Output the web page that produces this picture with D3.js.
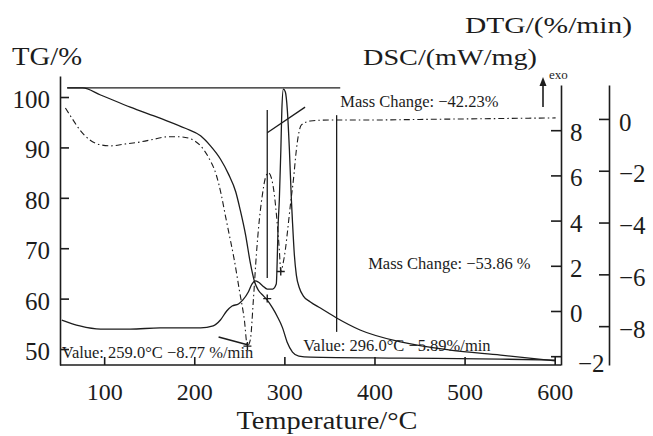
<!DOCTYPE html>
<html>
<head>
<meta charset="utf-8">
<script src="https://cdn.jsdelivr.net/npm/d3@7"></script>
<style>
  body { margin: 0; background: #fff; }
  svg { display: block; }
  text { font-family: "Liberation Serif", "DejaVu Serif", serif; fill: #1c1c1c; }
</style>
</head>
<body>
<div id="chart"></div>
<script>

    /////////////////////////////////////////////////////////////////////////////
                          ///////    Data    ///////
    /////////////////////////////////////////////////////////////////////////////

    // TG curve, [temperature °C, mass %]
    var tgData = [[59,101.8],[76,101.8],[96,100.4],[129,98.0],[162,95.8],[190,93.8],[207,92.3],
                  [218,90.3],[229,87.7],[238,84.7],[246,81.2],[251,77.6],[257,72.6],[262,67.3],
                  [267,63.3],[271,61.7],[277,60.5],[281,59.7],[287,58.1],[292,56.5],[298,54.2],
                  [303,51.4],[309,49.4],[316,48.6],[329,48.4],[429,48.2],[540,48.0],[601,47.8]];

    // DSC curve, [temperature °C, mW/mg]
    var dscData = [[53,-0.4],[73,-0.66],[96,-0.8],[129,-0.8],[162,-0.75],[207,-0.75],[221,-0.66],
                   [229,-0.4],[236,0.0],[242,0.22],[249,0.31],[254,0.49],[260,0.84],[264,1.19],
                   [268,1.33],[271,1.28],[276,1.11],[281,0.97],[287,0.97],[291,1.19],[293.3,4.03],
                   [294.4,4.91],[296.1,7.12],[297.2,8.89],[298.9,9.82],[301.1,9.69],[303.3,8.89],
                   [305.6,7.12],[307.8,4.91],[308.9,4.03],[311.1,2.48],[313.3,1.59],[316.7,1.02],
                   [321.1,0.66],[328.9,0.4],[340,0.13],[358,-0.31],[384,-0.84],[429,-1.37],
                   [484,-1.73],[540,-1.95],[601,-2.21]];

    // DTG curve, [temperature °C, %/min]
    var dtgData = [[57,0.42],[64,0.04],[73,-0.42],[84,-0.81],[96,-1.0],[107,-1.04],[123,-0.97],
                   [140,-0.89],[157,-0.77],[170,-0.69],[184,-0.69],[196,-0.77],[207,-1.04],
                   [215.6,-1.47],[224.4,-2.16],[230,-2.93],[234.4,-3.71],[238.9,-4.48],[244.4,-5.44],
                   [250,-6.6],[255.6,-7.76],[259,-8.77],[262.2,-8.53],[265.6,-6.99],[268.9,-5.25],
                   [272.2,-3.9],[275.6,-2.93],[278.9,-2.28],[282.2,-2.08],[285.6,-2.28],[288.9,-2.93],
                   [292.2,-4.09],[294.4,-5.05],[296,-5.89],[298.9,-5.52],[301.1,-5.05],[303.3,-4.4],
                   [306.7,-3.32],[310,-2.36],[313.3,-1.2],[315.6,-0.62],[318.9,-0.23],[328.9,-0.08],
                   [350,-0.04],[400,-0.04],[450,-0.02],[500,0.0],[550,0.02],[601,0.04]];

    var xTicks   = [100, 200, 300, 400, 500, 600];
    var tgTicks  = [50, 60, 70, 80, 90, 100];
    var dscTicks = [-2, 0, 2, 4, 6, 8];
    var dtgTicks = [-8, -6, -4, -2, 0];

    // evaluation marks: [temperature, value]
    var tgMarkers  = [[281, 60.0]];
    var dtgMarkers = [[259, -8.77], [296, -5.89]];

    // step construction lines on the TG scale: [[T1, v1], [T2, v2]]
    var tgGuides = [[[59, 101.8], [362, 101.8]],
                    [[281, 92.9], [323, 98.0]],
                    [[281, 97.4], [281, 64.1]],
                    [[358, 96.4], [358, 53.4]]];

    // leader for the first DTG value, DTG scale
    var dtgLeader = [[227, -8.42], [259, -8.72]];

    var notes = [
        {text: "Mass Change: \u221242.23%",   t: 362, v: 98.0},
        {text: "Mass Change: \u221253.86 %",  t: 393, v: 65.9},
        {text: "Value: 259.0\u00b0C \u22128.77 %/min", t: 53, v: 48.2},
        {text: "Value: 296.0\u00b0C \u22125.89%/min",  t: 321, v: 49.6}
    ];

    /////////////////////////////////////////////////////////////////////////////
                          ///////    Layout    ///////
    /////////////////////////////////////////////////////////////////////////////

    var w = 653, h = 436;
    var ink = "#1c1c1c";
    var stroke = 1.3;

    var left = 60, right = 561, bottom = 365;
    var dtgAxisX = 609;

    var x   = d3.scaleLinear().domain([51, 607]).range([left, right]);
    var yTG = d3.scaleLinear().domain([46.83, 104.17]).range([bottom, 76]);
    var yDSC = d3.scaleLinear().domain([-2.39, 10.0]).range([bottom, 85]);
    var yDTG = d3.scaleLinear().domain([-9.5, 1.31]).range([bottom, 85]);

    var svg = d3.select("#chart").append("svg")
        .attr("width", w).attr("height", h)
        .attr("xmlns", "http://www.w3.org/2000/svg");

    var g = svg.append("g");

    /////////////////////////////////////////////////////////////////////////////
                          ///////    Axes    ///////
    /////////////////////////////////////////////////////////////////////////////

    function styleAxis(sel, fontSize) {
        sel.select(".domain").attr("stroke", ink).attr("stroke-width", 1.6);
        sel.selectAll(".tick line").attr("stroke", ink).attr("stroke-width", 1.6);
        sel.selectAll(".tick text")
           .attr("fill", ink)
           .style("font-size", fontSize + "px")
           .style("font-family", "'Liberation Serif', serif");
    }

    var fmt = d => d < 0 ? "\u2212" + Math.abs(d) : "" + d;

    var xAxis = g.append("g").attr("transform", "translate(0," + bottom + ")")
        .call(d3.axisBottom(x).tickValues(xTicks).tickSize(-8).tickSizeOuter(0).tickPadding(18).tickFormat(fmt));
    styleAxis(xAxis, 24);
    xAxis.select(".domain").attr("d", "M" + left + ",0H" + right);

    var tgAxis = g.append("g").attr("transform", "translate(" + left + ",0)")
        .call(d3.axisLeft(yTG).tickValues(tgTicks).tickSize(-9).tickSizeOuter(0).tickPadding(10).tickFormat(fmt));
    styleAxis(tgAxis, 25);
    tgAxis.selectAll(".tick text").attr("dy", "0.42em");

    var dscAxis = g.append("g").attr("transform", "translate(" + right + ",0)")
        .call(d3.axisRight(yDSC).tickValues(dscTicks).tickSize(-10).tickSizeOuter(0).tickPadding(9).tickFormat(fmt));
    styleAxis(dscAxis, 25);
    dscAxis.selectAll(".tick text").attr("dy", "0.42em");
    dscAxis.selectAll(".tick").filter(d => d === -2).select("text").attr("x", 17).attr("dy", "0.62em");

    var dtgAxis = g.append("g").attr("transform", "translate(" + dtgAxisX + ",0)")
        .call(d3.axisRight(yDTG).tickValues(dtgTicks).tickSize(-10).tickSizeOuter(0).tickPadding(10).tickFormat(fmt));
    styleAxis(dtgAxis, 25);
    dtgAxis.selectAll(".tick text").attr("dy", "0.45em");

    /////////////////////////////////////////////////////////////////////////////
                          ///////    Curves    ///////
    /////////////////////////////////////////////////////////////////////////////

    let lineOn = yScale => d3.line().x(d => x(d[0])).y(d => yScale(d[1])).curve(d3.curveMonotoneX);
    let segment = yScale => d3.line().x(d => x(d[0])).y(d => yScale(d[1]));

    var plot = g.append("g").attr("fill", "none").attr("stroke", ink);

    plot.selectAll(".guide").data(tgGuides).enter().append("path")
        .attr("class", "guide").attr("d", segment(yTG)).attr("stroke-width", stroke);

    plot.append("path").datum(dtgLeader).attr("d", segment(yDTG)).attr("stroke-width", 1.6);

    plot.append("path").datum(dscData).attr("d", lineOn(yDSC)).attr("stroke-width", stroke);
    plot.append("path").datum(tgData).attr("d", lineOn(yTG)).attr("stroke-width", stroke);
    plot.append("path").datum(dtgData).attr("d", lineOn(yDTG))
        .attr("stroke-width", 1.1).attr("stroke-dasharray", "6,3,1.5,3");

    function cross(sel, data, yScale) {
        sel.selectAll(null).data(data).enter().append("path")
           .attr("d", d => { let cx = x(d[0]), cy = yScale(d[1]);
               return "M" + (cx - 4) + "," + cy + "H" + (cx + 4) + "M" + cx + "," + (cy - 4) + "V" + (cy + 4); })
           .attr("stroke-width", 1.4);
    }
    cross(plot, tgMarkers, yTG);
    cross(plot, dtgMarkers, yDTG);

    /////////////////////////////////////////////////////////////////////////////
                          ///////    Labels    ///////
    /////////////////////////////////////////////////////////////////////////////

    g.selectAll(".note").data(notes).enter().append("text")
        .attr("class", "note")
        .attr("x", d => x(d.t)).attr("y", d => yTG(d.v))
        .style("font-size", "16.5px")
        .text(d => d.text);

    function title(str, tx, ty, size, len, anchor) {
        return g.append("text").attr("x", tx).attr("y", ty)
            .attr("text-anchor", anchor || "start")
            .attr("textLength", len).attr("lengthAdjust", "spacingAndGlyphs")
            .style("font-size", size + "px").text(str);
    }
    title("TG/%", 12, 65, 25, 70);
    title("DSC/(mW/mg)", 363, 65, 24, 174);
    title("DTG/(%/min)", 465, 33, 24, 167);
    title("Temperature/\u00b0C", 327, 429, 25, 181, "middle");

    // exo arrow
    g.append("path").attr("d", "M543,107V82").attr("stroke", ink).attr("stroke-width", 1.6);
    g.append("path").attr("d", "M539.5,86L543,77L546.5,86Z").attr("fill", ink);
    g.append("text").attr("x", 549).attr("y", 79).style("font-size", "13px").text("exo");

</script>
</body>
</html>
